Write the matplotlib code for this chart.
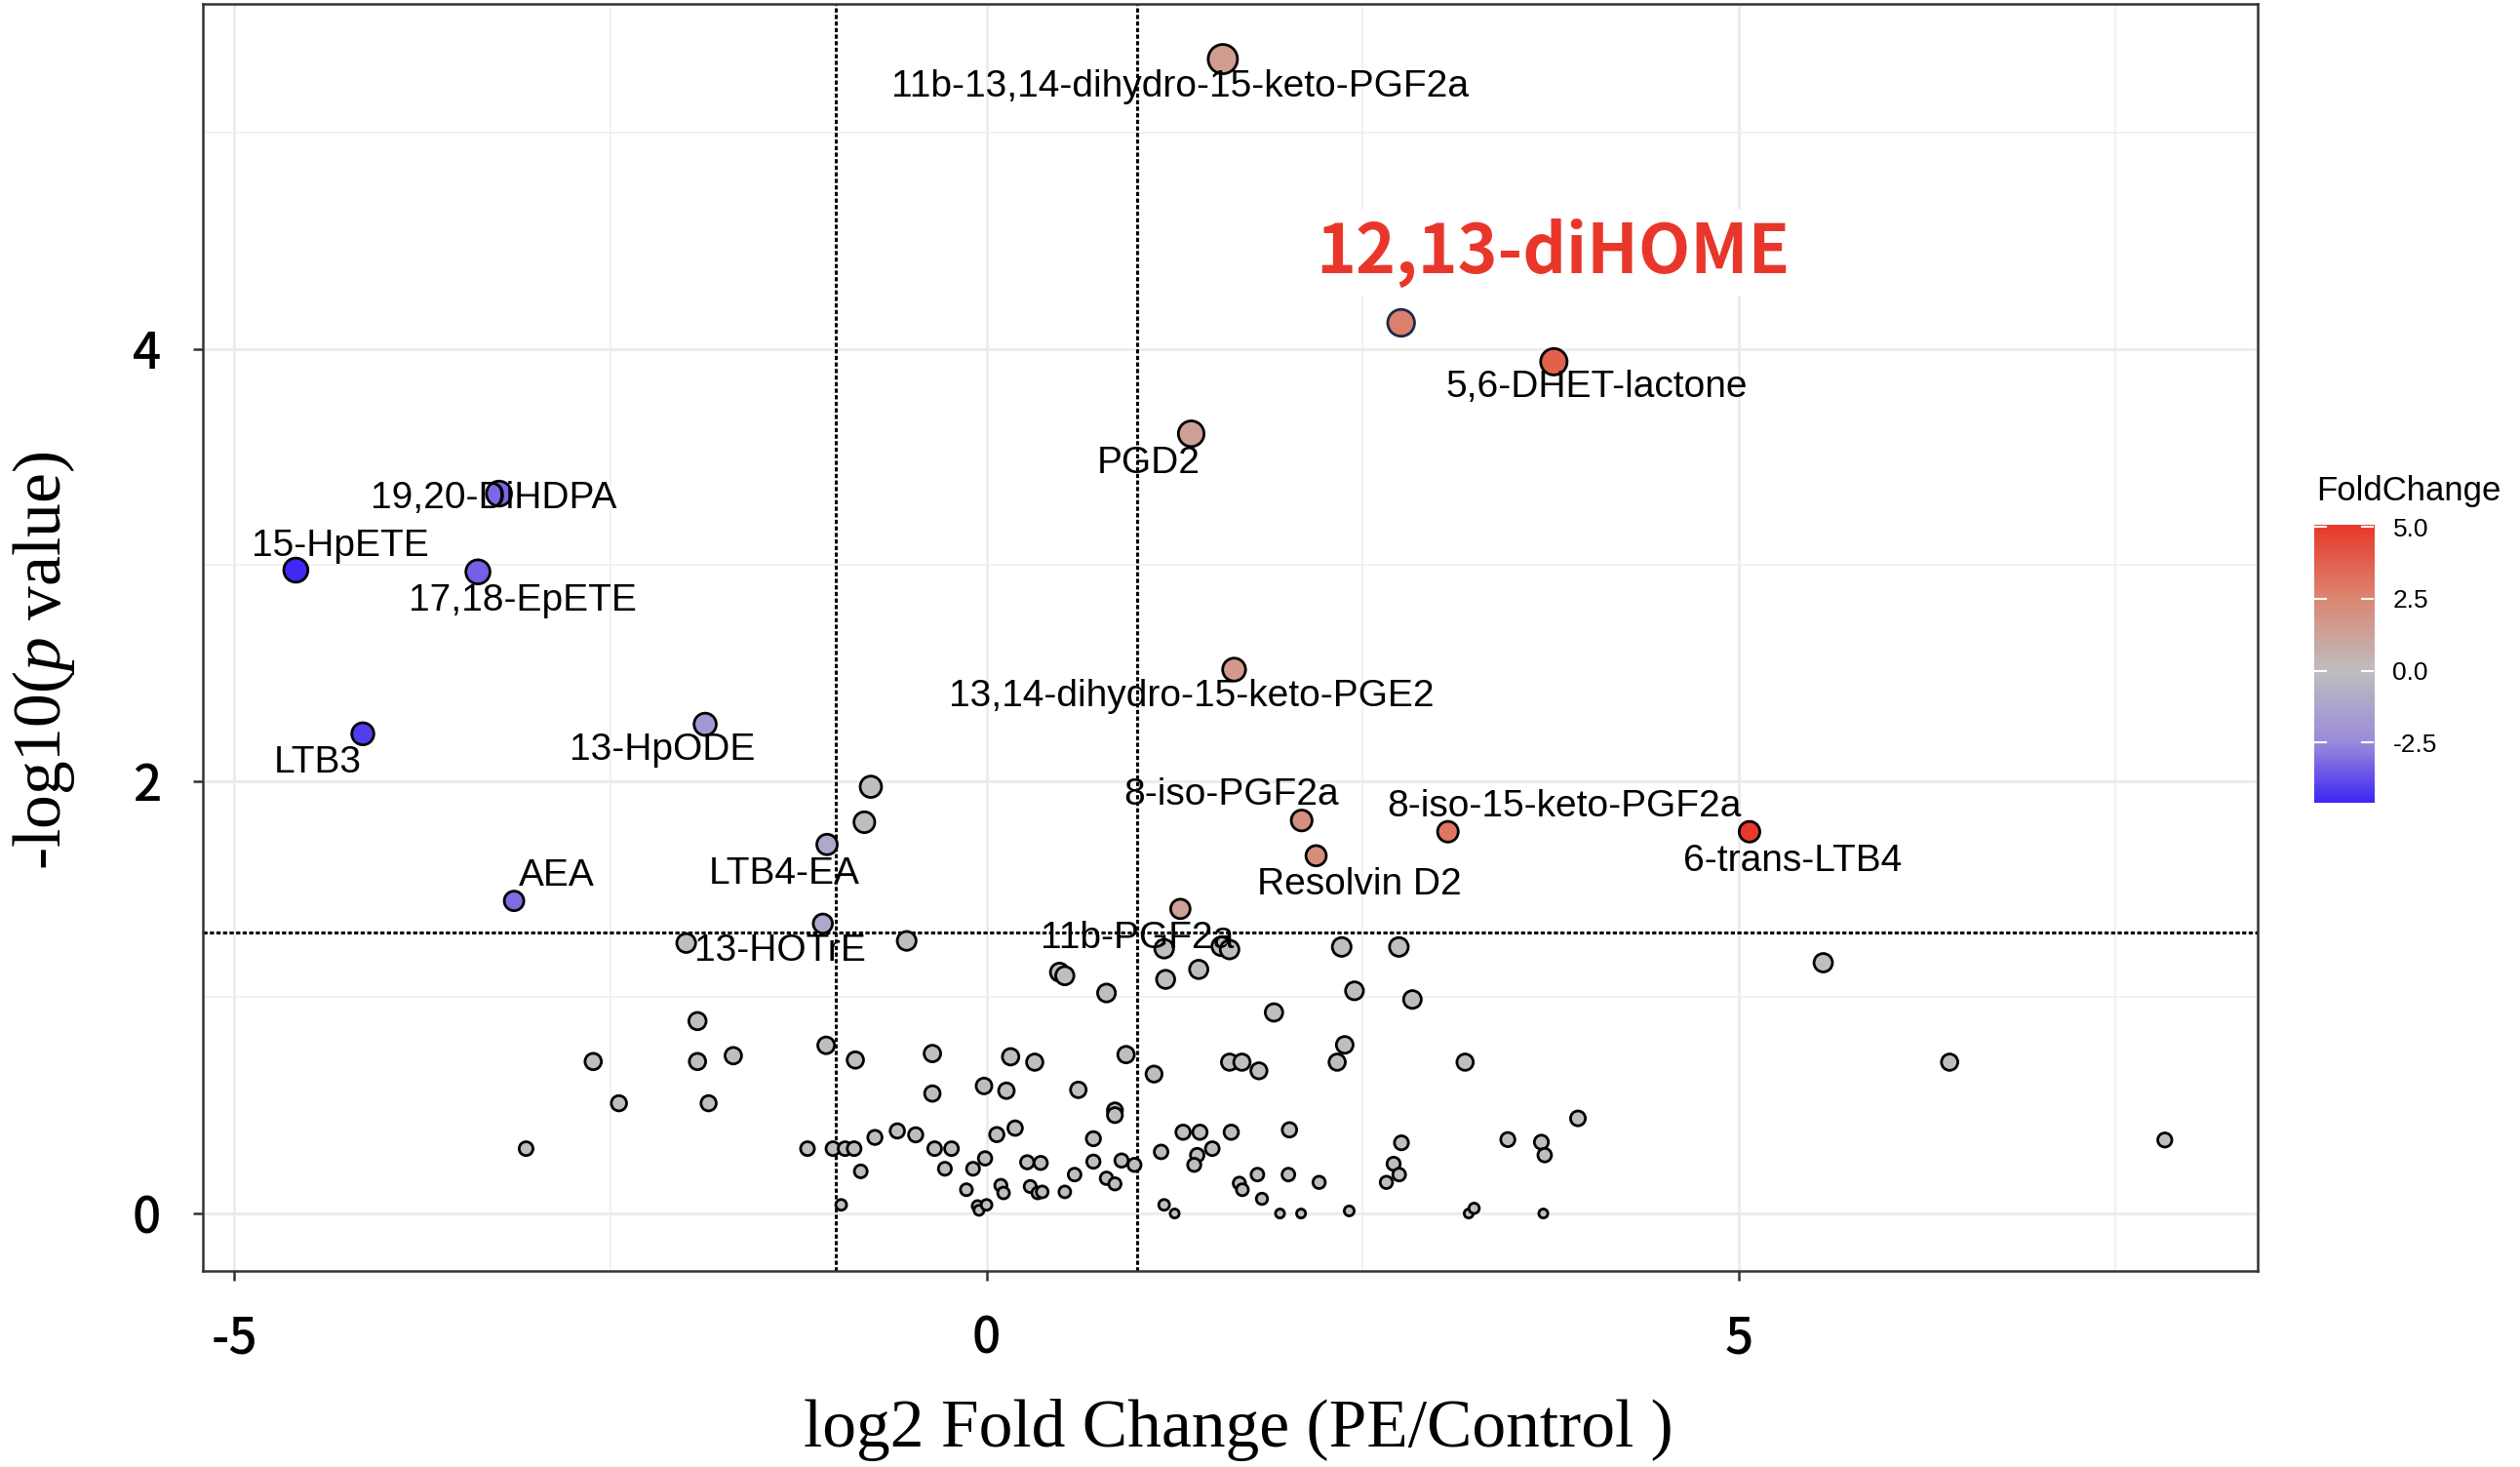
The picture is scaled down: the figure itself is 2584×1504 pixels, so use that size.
import numpy as np
import matplotlib
matplotlib.use("Agg")
import matplotlib.pyplot as plt
from matplotlib.colors import LinearSegmentedColormap, Normalize

plt.rcParams["axes.unicode_minus"] = False
plt.rcParams["mathtext.fontset"] = "custom"
plt.rcParams["mathtext.it"] = "Liberation Serif:italic"

# labelled metabolites (log2 FC, -log10 p)
names = ["11b-13,14-dihydro-15-keto-PGF2a", "12,13-diHOME", "5,6-DHET-lactone", "PGD2",
         "19,20-DiHDPA", "15-HpETE", "17,18-EpETE", "13,14-dihydro-15-keto-PGE2",
         "13-HpODE", "LTB3", "8-iso-PGF2a", "8-iso-15-keto-PGF2a", "6-trans-LTB4",
         "Resolvin D2", "AEA", "LTB4-EA", "13-HOTrE", "11b-PGF2a"]
lab_x = [1.57, 2.755, 3.77, 1.36, -3.24, -4.59, -3.38, 1.645, -1.87, -4.145, 2.094,
         3.066, 5.07, 2.19, -3.14, -1.06, -1.088, 1.288]
lab_y = [5.34, 4.12, 3.94, 3.607, 3.33, 2.976, 2.968, 2.516, 2.263, 2.219, 1.818,
         1.766, 1.766, 1.655, 1.446, 1.707, 1.341, 1.409]

# unlabelled metabolites
gx = [-0.769, -0.812, -1.996, -0.531, 0.485, 0.52, 1.18, 1.56, 1.615, 2.36, 2.74, 5.56,
      1.19, 1.41, 0.797, 2.445, 2.83, 1.91, -1.921, 2.38, -1.066,
      -2.614, -1.921, -1.683, -0.872, -0.36, 0.16, 0.32, 0.927, 1.615, 1.697, 1.81, 2.33,
      3.18, 6.40, 1.113,
      -0.36, -0.017, 0.132, 0.61, -2.443, -1.847, 0.853, 0.853, 3.93,
      -0.742, -0.593, -0.471, 0.068, 0.19, 0.71, 1.306, 1.418, 1.626, 2.013, 2.757, 3.464,
      3.687, 3.709, 7.83,
      -3.06, -1.19, -1.021, -0.94, -0.88, -0.345, -0.233, 1.50, 1.16,
      -0.836, -0.277, -0.01, -0.09, 0.27, 0.36, 0.71, 0.897, 0.983, 1.40, 1.38, 2.705,
      0.585, 1.80, 2.006, 2.742, 0.797, 0.853, 1.68, 1.70, 2.21, 2.657,
      -0.134, 0.095, 0.113, 0.29, 0.34, 0.37, 0.52, 1.83,
      -0.966, -0.06, -0.05, 0.0, 1.18, 1.25, 1.95, 2.09, 2.41, 3.204, 3.24, 3.70]
gy = [1.974, 1.81, 1.251, 1.261, 1.116, 1.10, 1.225, 1.236, 1.221, 1.233, 1.233, 1.16,
      1.083, 1.129, 1.02, 1.03, 0.99, 0.93, 0.89, 0.78, 0.778,
      0.703, 0.703, 0.73, 0.71, 0.74, 0.725, 0.70, 0.735, 0.70, 0.70, 0.66, 0.70,
      0.70, 0.70, 0.645,
      0.555, 0.59, 0.568, 0.572, 0.51, 0.51, 0.477, 0.455, 0.44,
      0.352, 0.382, 0.364, 0.365, 0.395, 0.346, 0.376, 0.376, 0.376, 0.387, 0.327, 0.342,
      0.33, 0.27, 0.34,
      0.30, 0.30, 0.30, 0.30, 0.30, 0.30, 0.30, 0.30, 0.285,
      0.195, 0.207, 0.255, 0.207, 0.237, 0.234, 0.24, 0.245, 0.225, 0.27, 0.225, 0.23,
      0.18, 0.18, 0.18, 0.18, 0.163, 0.137, 0.14, 0.11, 0.144, 0.144,
      0.11, 0.13, 0.095, 0.125, 0.095, 0.10, 0.10, 0.068,
      0.04, 0.035, 0.015, 0.04, 0.04, 0.0, 0.0, 0.0, 0.012, 0.0, 0.024, 0.0]

# where each label sits relative to its point (pixels)
label_offsets = [(-44, -28), (156, 72), (44, -26), (-44, -30), (-5, -5), (46, 25),
                 (46, -30), (-44, -28), (-44, -26), (-46, -30), (-72, 26), (119, 26),
                 (44, -30), (44, -30), (44, 26), (-44, -30), (-44, -28), (-44, -30)]

p_cut = -np.log10(0.05)
fc_cut = 1.0

x = np.array(lab_x + gx)
y = np.array(lab_y + gy)
sig = (y > p_cut) & (np.abs(x) > fc_cut)

cmap = LinearSegmentedColormap.from_list(
    "fc", [(0.0, "#2A10FA"), (0.25, "#9A8ADB"), (0.5, "#BEBEBE"),
           (0.75, "#DC8672"), (1.0, "#E8392A")])
vmax = np.abs(x[sig]).max()
norm = Normalize(-vmax, vmax)

fill = [cmap(norm(v)) if s else "#BEBEBE" for v, s in zip(x, sig)]
edge = ["black"] * len(x)
edge[names.index("12,13-diHOME")] = "#1B2A4A"

dpi = 100
lw = 2.0
diam_px = 12 + 9 * np.sqrt(np.clip(y, 0, None))
sizes = (diam_px * 72 / dpi - lw) ** 2

fig = plt.figure(figsize=(25.84, 15.04), dpi=dpi)
ax = fig.add_axes([0.0805, 0.1336, 0.8154, 0.8637])

ax.set_xlim(-5.208, 8.447)
ax.set_ylim(-0.266, 5.595)
ax.set_xticks([-5, 0, 5])
ax.set_yticks([0, 2, 4])
ax.set_xticks([-2.5, 2.5, 7.5], minor=True)
ax.set_yticks([1, 3, 5], minor=True)
ax.grid(True, which="major", color="#EBEBEB", lw=2.0, zorder=0)
ax.grid(True, which="minor", color="#EFEFEF", lw=1.2, zorder=0)
ax.set_axisbelow(True)
ax.tick_params(which="minor", length=0)
ax.tick_params(which="major", length=7, width=1.8, color="#333333", pad=24)
for sp in ax.spines.values():
    sp.set_color("#333333")
    sp.set_linewidth(1.8)

for lab in ax.get_xticklabels() + ax.get_yticklabels():
    lab.set_fontfamily(["Noto Sans CJK JP", "DejaVu Sans"])
    lab.set_fontweight("medium")
    lab.set_fontsize(37)

dots = (0, (1.4, 0.8))
ax.axhline(p_cut, color="black", lw=2.2, ls=dots, zorder=1)
ax.axvline(-fc_cut, color="black", lw=2.2, ls=dots, zorder=1)
ax.axvline(fc_cut, color="black", lw=2.2, ls=dots, zorder=1)

ax.scatter(x, y, s=sizes, c=fill, edgecolors=edge, linewidths=lw, zorder=3)

for i, name in enumerate(names):
    dx, dy = label_offsets[i]
    if name == "12,13-diHOME":
        ax.annotate(name, (lab_x[i], lab_y[i]), xytext=(dx, dy), textcoords="offset pixels",
                    ha="center", va="center", fontsize=50, fontweight="bold",
                    family=["Noto Sans CJK JP", "DejaVu Sans"], color="#E8372A",
                    bbox=dict(facecolor="white", edgecolor="none", pad=6), zorder=5)
    else:
        ax.annotate(name, (lab_x[i], lab_y[i]), xytext=(dx, dy), textcoords="offset pixels",
                    ha="center", va="center", fontsize=28,
                    family=["Liberation Sans", "DejaVu Sans"], color="black", zorder=4)

# axis titles
fig.text(1270 / 2584, 1 - 1483 / 1504, "log2 Fold Change (PE/Control )",
         ha="center", va="baseline", fontsize=50, family="Liberation Serif")
fig.text(45 / 2584, 1 - 677 / 1504, r"-log10($p$ value)", rotation=90,
         ha="center", va="center", fontsize=50, family="Liberation Serif")

# colour bar
cax = fig.add_axes([0.91835, 0.4530, 0.02361, 0.1891])
lo, hi = x[sig].min(), x[sig].max()
grad = np.linspace(lo, hi, 256)[:, None]
cax.imshow(grad, extent=[0, 1, lo, hi], origin="lower", aspect="auto", cmap=cmap, norm=norm)
cax.set_xlim(0, 1)
cax.set_ylim(lo, hi)
cax.set_xticks([])
bar_ticks = [-2.5, 0.0, 2.5, 5.0]
cax.set_yticks(bar_ticks)
cax.set_yticklabels([f"{t:.1f}" for t in bar_ticks], fontsize=19,
                    family="Liberation Sans")
cax.yaxis.tick_right()
cax.tick_params(axis="y", length=0, pad=14)
for t in bar_ticks:
    cax.axhline(t, xmin=0, xmax=0.2, color="white", lw=1.5)
    cax.axhline(t, xmin=0.8, xmax=1, color="white", lw=1.5)
for sp in cax.spines.values():
    sp.set_visible(False)
fig.text(2375 / 2584, 1 - 503 / 1504, "FoldChange", ha="left", va="center",
         fontsize=25, family="Liberation Sans")

fig.savefig("out.png", dpi=dpi)
